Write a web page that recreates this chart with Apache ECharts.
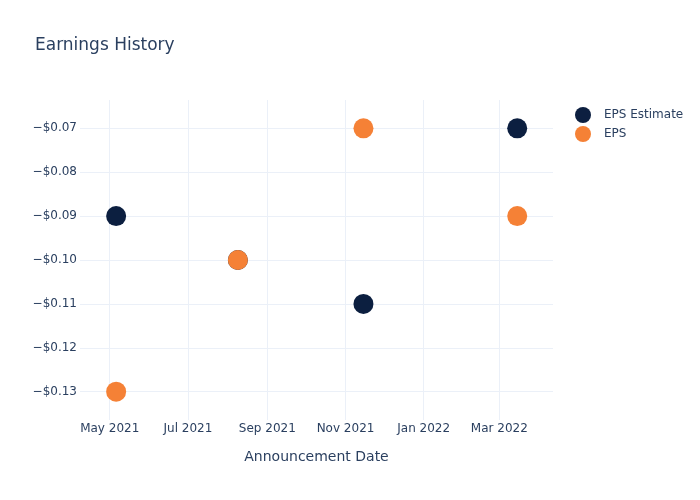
<!DOCTYPE html>
<html>
<head>
    <meta charset="utf-8">
    <title>Earnings History</title>
    <script src="https://cdn.jsdelivr.net/npm/echarts@6/dist/echarts.min.js"></script>
    <style>
        html, body, #main {
            width: 100%;
            height: 100%;
            margin: 0;
        }
    </style>
</head>
<body>
    <div id="main"></div>
    <script type="text/javascript">
        // announcement dates and values
        var dates = ['2021-05-06', '2021-08-09', '2021-11-15', '2022-03-15'];
        var epsEstimate = [-0.09, -0.10, -0.11, -0.07];
        var eps = [-0.13, -0.10, -0.07, -0.09];
        var monthNames = ['Jan', 'Feb', 'Mar', 'Apr', 'May', 'Jun', 'Jul', 'Aug', 'Sep', 'Oct', 'Nov', 'Dec'];

        var textColor = '#2a3f5f';
        var gridColor = '#ebf0f8';

        function pairs(vals) {
            return dates.map(function (d, i) { return [d, vals[i]]; });
        }

        var myChart = echarts.init(document.getElementById('main'));
        var option = {
            animation: false,
            backgroundColor: '#fff',
            textStyle: { fontFamily: 'DejaVu Sans, sans-serif' },
            title: {
                text: 'Earnings History',
                left: 35,
                top: 37,
                padding: 0,
                textStyle: { color: textColor, fontSize: 17, fontWeight: 'normal' }
            },
            legend: {
                orient: 'vertical',
                left: 575,
                top: 107,
                padding: 0,
                icon: 'circle',
                itemWidth: 16,
                itemHeight: 16,
                itemGap: 3,
                textStyle: { color: textColor, fontSize: 12, padding: [0, 0, 0, 8] },
                data: ['EPS Estimate', 'EPS']
            },
            grid: { left: 80, right: 147, top: 100, bottom: 80 },
            xAxis: {
                type: 'time',
                min: new Date(2021, 3, 7, 19).getTime(),
                max: new Date(2022, 3, 11, 22).getTime(),
                splitNumber: 6,
                name: 'Announcement Date',
                nameLocation: 'middle',
                nameGap: 30,
                nameTextStyle: { color: textColor, fontSize: 14 },
                axisLine: { show: false },
                axisTick: { show: false },
                axisLabel: {
                    color: textColor,
                    fontSize: 12,
                    margin: 3,
                    showMinLabel: false,
                    showMaxLabel: false,
                    formatter: function (v) {
                        var d = new Date(v);
                        if (d.getDate() !== 1 || d.getHours() !== 0) return '';
                        return monthNames[d.getMonth()] + ' ' + d.getFullYear();
                    }
                },
                splitLine: {
                    show: true,
                    showMinLine: false,
                    showMaxLine: false,
                    lineStyle: { color: gridColor, width: 1 }
                }
            },
            yAxis: {
                type: 'value',
                min: -0.13645,
                max: -0.06355,
                minInterval: 0.01,
                maxInterval: 0.01,
                splitNumber: 7,
                axisLine: { show: false },
                axisTick: { show: false },
                axisLabel: {
                    color: textColor,
                    fontSize: 12,
                    margin: 3,
                    showMinLabel: false,
                    showMaxLabel: false,
                    formatter: function (v) {
                        var r = Math.round(v * 100);
                        if (Math.abs(v * 100 - r) > 1e-6) return '';
                        return (v < 0 ? '\u2212' : '') + '$' + Math.abs(v).toFixed(2);
                    }
                },
                splitLine: {
                    show: true,
                    showMinLine: false,
                    showMaxLine: false,
                    lineStyle: { color: gridColor, width: 1 }
                }
            },
            series: [
                {
                    name: 'EPS Estimate',
                    type: 'scatter',
                    symbolSize: 20,
                    itemStyle: { color: '#0c1f40', opacity: 1 },
                    data: pairs(epsEstimate)
                },
                {
                    name: 'EPS',
                    type: 'scatter',
                    symbolSize: 20,
                    itemStyle: { color: '#f58136', opacity: 1 },
                    data: pairs(eps)
                }
            ]
        };
        myChart.setOption(option, true);
    </script>
</body>
</html>
